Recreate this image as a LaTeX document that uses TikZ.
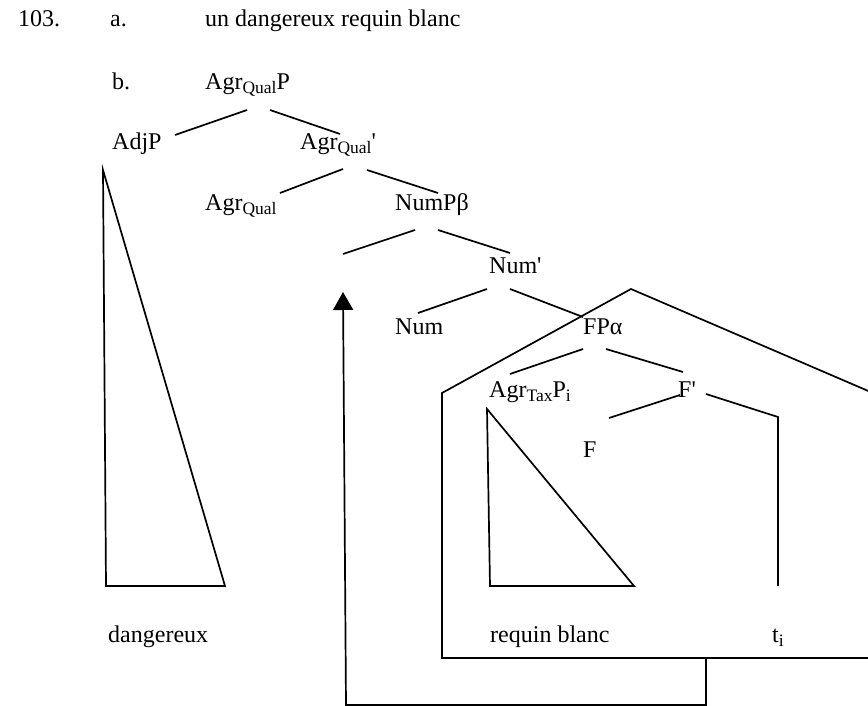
\documentclass[tikz,border=0pt]{standalone}
\usepackage{fontspec}
\newfontfamily\tf{Liberation Serif}
\usetikzlibrary{arrows.meta}
\newcommand\sbs[1]{\raisebox{-4pt}{\fontsize{17.5}{17.5}\selectfont #1}}
\begin{document}
\begin{tikzpicture}[x=1pt,y=-1pt,
  lbl/.style={anchor=base west, inner sep=0pt, font=\tf\fontsize{24}{28}\selectfont},
  ln/.style={line width=1.7pt, line join=miter}]
\useasboundingbox (0,0) rectangle (868,706);
\clip (0,0) rectangle (868,706);
% labels
\node[lbl] (n103) at (18,27) {103.};
\node[lbl] (ia) at (110,27) {a.};
\node[lbl] (ex) at (205,27) {un dangereux requin blanc};
\node[lbl] (ib) at (112,90) {b.};
\node[lbl] (AQP) at (205,90) {Agr\sbs{Qual}P};
\node[lbl] (AdjP) at (112,150) {AdjP};
\node[lbl] (AQb) at (300,150) {Agr\sbs{Qual}'};
\node[lbl] (AQ) at (205,211) {Agr\sbs{Qual}};
\node[lbl] (NumP) at (395,211) {NumPβ};
\node[lbl] (Numb) at (489,273) {Num'};
\node[lbl] (Num) at (395,334) {Num};
\node[lbl] (FP) at (583,334) {FPα};
\node[lbl] (ATP) at (489,397) {Agr\sbs{Tax}P\sbs{i}};
\node[lbl] (Fb) at (678,397) {F'};
\node[lbl] (F) at (583,457) {F};
\node[lbl] (dang) at (108,642) {dangereux};
\node[lbl] (rb) at (490,642) {requin blanc};
\node[lbl] (ti) at (772,642) {t\sbs{i}};
% branch end points
\coordinate (AQPl) at (247,110); \coordinate (AQPr) at (270,110);
\coordinate (AdjPt) at (175,135); \coordinate (AQbt) at (340,134);
\coordinate (AQbl) at (343,169); \coordinate (AQbr) at (367,170);
\coordinate (AQt) at (280,193); \coordinate (NumPt) at (438,193);
\coordinate (NumPl) at (415,230); \coordinate (NumPr) at (438,230);
\coordinate (spec) at (343,254); \coordinate (Numbt) at (510,253);
\coordinate (Numbl) at (487,289); \coordinate (Numbr) at (510,289);
\coordinate (Numt) at (418,313); \coordinate (FPt) at (583,317);
\coordinate (FPl) at (583,349); \coordinate (FPr) at (606,349);
\coordinate (ATPt) at (510,374); \coordinate (Fbt) at (683,372);
\coordinate (Fbl) at (680,395); \coordinate (Fbr) at (706,394);
\coordinate (Ft) at (609,418); \coordinate (tt) at (778,417);
\coordinate (tb) at (778,586);
% tree branches
\draw[ln] (AQPl) -- (AdjPt);
\draw[ln] (AQPr) -- (AQbt);
\draw[ln] (AQbl) -- (AQt);
\draw[ln] (AQbr) -- (NumPt);
\draw[ln] (NumPl) -- (spec);
\draw[ln] (NumPr) -- (Numbt);
\draw[ln] (Numbl) -- (Numt);
\draw[ln] (Numbr) -- (FPt);
\draw[ln] (FPl) -- (ATPt);
\draw[ln] (FPr) -- (Fbt);
\draw[ln] (Fbl) -- (Ft);
\draw[ln] (Fbr) -- (tt) -- (tb);
% triangles
\coordinate (tri1a) at (103,170); \coordinate (tri1b) at (106,586); \coordinate (tri1c) at (225,586);
\draw[ln] (tri1a) -- (tri1b) -- (tri1c) -- cycle;
\coordinate (tri2a) at (487,409); \coordinate (tri2b) at (490,586); \coordinate (tri2c) at (634,586);
\draw[ln] (tri2a) -- (tri2b) -- (tri2c) -- cycle;
% movement box
\coordinate (bxl) at (442,393); \coordinate (bxt) at (631,289); \coordinate (bxr) at (873,393);
\coordinate (bxrb) at (873,658); \coordinate (bxlb) at (442,658);
\draw[ln] (bxl) -- (bxt) -- (bxr) -- (bxrb) -- (bxlb) -- cycle;
% movement arrow
\coordinate (mv0) at (706,658); \coordinate (mv1) at (706,705);
\coordinate (mv2) at (346,705); \coordinate (mvtip) at (343,292);
\draw[ln, -{Triangle[width=20pt,length=18pt]}] (mv0) -- (mv1) -- (mv2) -- (mvtip);
\end{tikzpicture}
\end{document}
